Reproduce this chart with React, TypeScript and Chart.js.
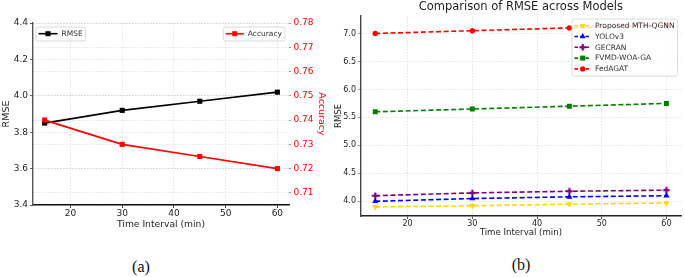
import React, { useEffect, useRef } from "react";
import { Chart, registerables } from "chart.js";

Chart.register(...registerables);

// ---------- data ----------
const timeIntervals = [15, 30, 45, 60];
const rmseA = [3.85, 3.92, 3.97, 4.02];
const accuracyA = [0.74, 0.73, 0.725, 0.72];
const xTicks = [20, 30, 40, 50, 60];
const rmseTicksA = [3.4, 3.6, 3.8, 4.0, 4.2, 4.4];
const accTicksA = [0.71, 0.72, 0.73, 0.74, 0.75, 0.76, 0.77, 0.78];

const modelNames = ["Proposed MTH-QGNN", "YOLOv3", "GECRAN", "FVMD-WOA-GA", "FedAGAT"];
const proposedRmse = [3.9, 3.92, 3.95, 3.97];
const yoloRmse = [4.0, 4.05, 4.08, 4.1];
const gecranRmse = [4.1, 4.15, 4.18, 4.2];
const fvmdRmse = [5.6, 5.65, 5.7, 5.75];
const fedagatRmse = [7.0, 7.05, 7.1, 7.15];
const rmseTicksB = [4.0, 4.5, 5.0, 5.5, 6.0, 6.5, 7.0];

const FONT = "'DejaVu Sans', sans-serif";
const TEXT = "#1e1e1e";
const GRID = "rgba(0,0,0,0.13)";

type LegendItem = { label: string; color: string; marker: string; dash: number[] };

function drawMarker(ctx: CanvasRenderingContext2D, marker: string, x: number, y: number, color: string) {
  ctx.save();
  ctx.fillStyle = color;
  ctx.setLineDash([]);
  ctx.beginPath();
  if (marker === "rect") {
    const s = 2.5;
    ctx.rect(x - s, y - s, 2 * s, 2 * s);
    ctx.fill();
  } else if (marker === "circle") {
    ctx.arc(x, y, 2.6, 0, Math.PI * 2);
    ctx.fill();
  } else if (marker === "triUp" || marker === "triDown") {
    const r = 3.4;
    const sgn = marker === "triUp" ? 1 : -1;
    ctx.moveTo(x, y - sgn * r);
    ctx.lineTo(x + r * 0.866, y + sgn * r * 0.5);
    ctx.lineTo(x - r * 0.866, y + sgn * r * 0.5);
    ctx.closePath();
    ctx.fill();
  } else if (marker === "plus") {
    const size = 6.5;
    const t = 2.2;
    ctx.fillRect(x - t / 2, y - size / 2, t, size);
    ctx.fillRect(x - size / 2, y - t / 2, size, t);
  }
  ctx.restore();
}

function makePlusCanvas(color: string) {
  const c = document.createElement("canvas");
  c.width = 8;
  c.height = 8;
  const g = c.getContext("2d")!;
  g.fillStyle = color;
  g.fillRect(2.9, 0.7, 2.2, 6.6);
  g.fillRect(0.7, 2.9, 6.6, 2.2);
  return c;
}

function drawLegend(
  chart: any,
  items: LegendItem[],
  anchor: { side: "left" | "right"; dx: number; dy: number },
  fontSize: number,
  lineLen: number
) {
  const ctx: CanvasRenderingContext2D = chart.ctx;
  const area = chart.chartArea;
  ctx.save();
  ctx.font = `${fontSize}px ${FONT}`;
  const textW = Math.max(...items.map((it) => ctx.measureText(it.label).width));
  const padL = 2.5;
  const gap = 4;
  const padR = 3;
  const rowH = 10.8;
  const padTop = 1.3;
  const padBot = 1.9;
  const w = padL + lineLen + gap + textW + padR;
  const h = padTop + items.length * rowH + padBot;
  const left = anchor.side === "left" ? area.left + anchor.dx : area.right - anchor.dx - w;
  const top = area.top + anchor.dy;
  ctx.beginPath();
  (ctx as any).roundRect(left, top, w, h, 2.5);
  ctx.fillStyle = "rgba(255,255,255,0.82)";
  ctx.fill();
  ctx.strokeStyle = "#d0d0d0";
  ctx.lineWidth = 0.8;
  ctx.stroke();
  items.forEach((it, i) => {
    const cy = top + padTop + rowH / 2 + i * rowH;
    const x0 = left + padL;
    ctx.save();
    ctx.strokeStyle = it.color;
    ctx.lineWidth = 1.6;
    ctx.setLineDash(it.dash);
    ctx.beginPath();
    ctx.moveTo(x0, cy);
    ctx.lineTo(x0 + lineLen, cy);
    ctx.stroke();
    ctx.restore();
    drawMarker(ctx, it.marker, x0 + lineLen / 2, cy, it.color);
    ctx.fillStyle = "#333";
    ctx.textBaseline = "middle";
    ctx.textAlign = "left";
    ctx.fillText(it.label, x0 + lineLen + gap, cy + 0.3);
  });
  ctx.restore();
}

const pts = (ys: number[]) => timeIntervals.map((t, i) => ({ x: t, y: ys[i] }));

export default function App() {
  const refA = useRef<HTMLCanvasElement>(null);
  const refB = useRef<HTMLCanvasElement>(null);

  useEffect(() => {
    const tickFmt1 = (v: any) => Number(v).toFixed(1);
    const tickFmt2 = (v: any) => Number(v).toFixed(2);
    const setTicks = (vals: number[]) => (s: any) => {
      s.ticks = vals.map((v) => ({ value: v }));
    };

    // ---------- Chart (a) ----------
    const legendA = {
      id: "legendA",
      afterDraw(chart: any) {
        drawLegend(chart, [{ label: "RMSE", color: "#000", marker: "rect", dash: [] }], { side: "left", dx: 3, dy: 4 }, 7.5, 19);
        drawLegend(chart, [{ label: "Accuracy", color: "#ff0000", marker: "rect", dash: [] }], { side: "right", dx: 4, dy: 4 }, 7.5, 18);
      },
    };

    const chartA = new Chart(refA.current!, {
      type: "line",
      data: {
        datasets: [
          {
            label: "RMSE",
            data: pts(rmseA),
            yAxisID: "y",
            borderColor: "#000",
            backgroundColor: "#000",
            borderWidth: 1.7,
            pointStyle: "rect",
            pointRadius: 3.6,
            pointBorderWidth: 0,
            tension: 0,
            order: 1,
          },
          {
            label: "Accuracy",
            data: pts(accuracyA),
            yAxisID: "y1",
            borderColor: "#ff0000",
            backgroundColor: "#ff0000",
            borderWidth: 1.7,
            pointStyle: "rect",
            pointRadius: 3.6,
            pointBorderWidth: 0,
            tension: 0,
            order: 0,
          },
        ],
      },
      options: {
        animation: false,
        responsive: false,
        layout: { padding: { top: 23, left: 0, right: 0, bottom: 0 } },
        plugins: { legend: { display: false }, tooltip: { enabled: false }, title: { display: false } },
        scales: {
          x: {
            type: "linear",
            min: 12.75,
            max: 62.25,
            afterBuildTicks: setTicks(xTicks),
            afterFit: (s: any) => {
              s.height = 35;
            },
            ticks: { font: { family: FONT, size: 9 }, color: TEXT, padding: 0, maxRotation: 0, autoSkip: false },
            grid: { color: GRID, lineWidth: 0.8, tickLength: 3, tickColor: "#444", tickWidth: 1 },
            border: { display: true, color: "#111", width: 1.5, dash: [1.5, 1.5] },
            title: {
              display: true,
              text: "Time Interval (min)",
              font: { family: FONT, size: 9.2 },
              color: TEXT,
              padding: { top: 0, bottom: 9.5 },
            },
          },
          y: {
            type: "linear",
            position: "left",
            min: 3.4,
            max: 4.4,
            afterBuildTicks: setTicks(rmseTicksA),
            afterFit: (s: any) => {
              s.width = 33;
            },
            ticks: { font: { family: FONT, size: 9 }, color: TEXT, padding: 2, callback: tickFmt1, autoSkip: false },
            grid: { color: GRID, lineWidth: 0.8, tickLength: 3, tickColor: "#666", tickWidth: 1 },
            border: { display: true, color: "#555", width: 1.4, dash: [1.5, 1.5] },
            title: {
              display: true,
              text: "RMSE",
              font: { family: FONT, size: 9.5 },
              color: TEXT,
              padding: { top: 1, bottom: 0 },
            },
          },
          y1: {
            type: "linear",
            position: "right",
            min: 0.705,
            max: 0.78,
            afterBuildTicks: setTicks(accTicksA),
            afterFit: (s: any) => {
              s.width = 46;
            },
            ticks: { font: { family: FONT, size: 9 }, color: "#ff0000", padding: 2.5, callback: tickFmt2, autoSkip: false },
            grid: { color: GRID, lineWidth: 0.8, tickLength: 2, tickColor: "#999", tickWidth: 1, drawOnChartArea: true },
            border: { display: false, dash: [1.5, 1.5] },
            title: {
              display: true,
              text: "Accuracy",
              font: { family: FONT, size: 9.5 },
              color: "#ff0000",
              padding: { top: 8.3, bottom: 0 },
            },
          },
        },
      },
      plugins: [legendA],
    } as any);

    // ---------- Chart (b) ----------
    const colorsB = ["#FFD700", "#0000ff", "#800080", "#008000", "#ff0000"];
    const markersB = ["triDown", "triUp", "plus", "rect", "circle"];
    const seriesB = [proposedRmse, yoloRmse, gecranRmse, fvmdRmse, fedagatRmse];
    const plus = makePlusCanvas(colorsB[2]);
    const pointStyles: any[] = ["triangle", "triangle", plus, "rect", "circle"];
    const pointRadii = [3.6, 3.6, 3.5, 3.5, 2.7];
    const pointRot = [180, 0, 0, 0, 0];

    const legendB = {
      id: "legendB",
      afterDraw(chart: any) {
        drawLegend(
          chart,
          modelNames.map((n, i) => ({ label: n, color: colorsB[i], marker: markersB[i], dash: [3.5, 2] })),
          { side: "right", dx: 3.5, dy: 3 },
          7.5,
          16.5
        );
      },
    };

    const chartB = new Chart(refB.current!, {
      type: "line",
      data: {
        datasets: seriesB.map((s, i) => ({
          label: modelNames[i],
          data: pts(s),
          borderColor: colorsB[i],
          backgroundColor: colorsB[i],
          borderWidth: 1.6,
          borderDash: [5, 2.6],
          pointStyle: pointStyles[i],
          pointRadius: pointRadii[i],
          pointRotation: pointRot[i],
          pointBorderWidth: 0,
          tension: 0,
          order: i,
        })),
      },
      options: {
        animation: false,
        responsive: false,
        layout: { padding: { top: 0, left: 0, right: 3, bottom: 0 } },
        plugins: {
          legend: { display: false },
          tooltip: { enabled: false },
          title: {
            display: true,
            text: "Comparison of RMSE across Models",
            fullSize: false,
            font: { family: FONT, size: 11.5, weight: "normal" },
            color: TEXT,
            padding: { top: 0.6, bottom: 1.6 },
          },
        },
        scales: {
          x: {
            type: "linear",
            min: 12.75,
            max: 62.25,
            afterBuildTicks: setTicks(xTicks),
            afterFit: (s: any) => {
              s.height = 24;
            },
            ticks: { font: { family: FONT, size: 8 }, color: TEXT, padding: 0, maxRotation: 0, autoSkip: false },
            grid: { color: GRID, lineWidth: 0.8, tickLength: 3, tickColor: "#555", tickWidth: 1 },
            border: { display: true, color: "#222", width: 1.5, dash: [1.5, 1.5] },
            title: {
              display: true,
              text: "Time Interval (min)",
              font: { family: FONT, size: 8.6 },
              color: TEXT,
              padding: { top: 0, bottom: 1.8 },
            },
          },
          y: {
            type: "linear",
            position: "left",
            min: 3.7375,
            max: 7.3125,
            afterBuildTicks: setTicks(rmseTicksB),
            afterFit: (s: any) => {
              s.width = 30.7;
            },
            ticks: { font: { family: FONT, size: 8 }, color: TEXT, padding: 1.7, callback: tickFmt1, autoSkip: false },
            grid: { color: GRID, lineWidth: 0.8, tickLength: 3, tickColor: "#999", tickWidth: 1 },
            border: { display: true, color: "#444", width: 1.4, dash: [1.5, 1.5] },
            title: {
              display: true,
              text: "RMSE",
              font: { family: FONT, size: 8.5 },
              color: TEXT,
              padding: { top: 3.2, bottom: 0 },
            },
          },
        },
      },
      plugins: [legendB],
    } as any);

    return () => {
      chartA.destroy();
      chartB.destroy();
    };
  }, []);

  const caption: React.CSSProperties = {
    position: "absolute",
    fontFamily: "'Liberation Serif', serif",
    fontSize: 16,
    color: "#111",
    lineHeight: "16px",
    transform: "translate(-50%, -50%)",
    whiteSpace: "nowrap",
  };

  return (
    <div style={{ position: "absolute", left: 0, top: 0, width: 685, height: 277, background: "#fff", overflow: "hidden" }}>
      <canvas ref={refA} width={335} height={240} style={{ position: "absolute", left: 0, top: 0, width: 335, height: 240 }} />
      <canvas ref={refB} width={355} height={240} style={{ position: "absolute", left: 330, top: 0, width: 355, height: 240 }} />
      <div style={{ ...caption, left: 141, top: 267 }}>(a)</div>
      <div style={{ ...caption, left: 521, top: 265 }}>(b)</div>
    </div>
  );
}
